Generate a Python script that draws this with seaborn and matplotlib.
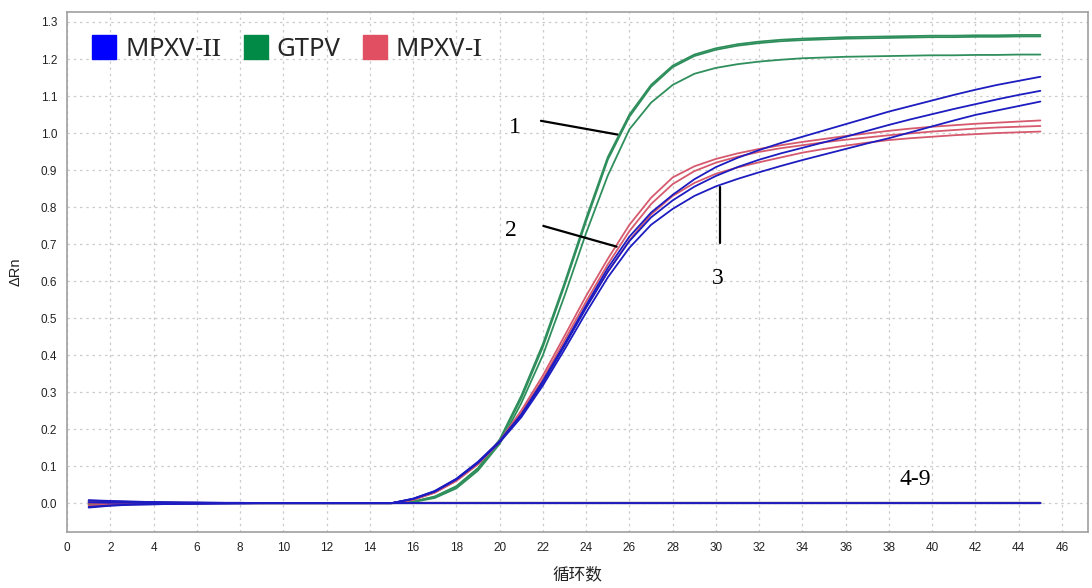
import numpy as np
import pandas as pd
import matplotlib
matplotlib.use("Agg")
import matplotlib.pyplot as plt
from matplotlib.lines import Line2D
import seaborn as sns

# qPCR amplification curves, cycles 1..45
cycles = list(range(1, 46))

# GTPV (1)
gtpv_a = [-0.004, -0.002, -0.001, 0.0, 0.0, 0.0, 0.0, 0.0, 0.0, 0.0, 0.0, 0.0, 0.0, 0.0,
          0.0, 0.004, 0.018, 0.046, 0.095, 0.172, 0.290, 0.430, 0.595, 0.770, 0.935,
          1.050, 1.130, 1.182, 1.212, 1.229, 1.240, 1.247, 1.252, 1.255, 1.257, 1.259,
          1.260, 1.261, 1.262, 1.263, 1.263, 1.264, 1.264, 1.265, 1.265]
gtpv_b = [0.004, 0.003, 0.002, 0.001, 0.001, 0.0, 0.0, 0.0, 0.0, 0.0, 0.0, 0.0, 0.0, 0.0,
          0.0, 0.004, 0.017, 0.044, 0.092, 0.168, 0.283, 0.422, 0.588, 0.762, 0.928,
          1.044, 1.125, 1.178, 1.208, 1.225, 1.236, 1.243, 1.248, 1.251, 1.253, 1.255,
          1.256, 1.257, 1.258, 1.259, 1.259, 1.260, 1.260, 1.261, 1.261]
gtpv_c = [0.001, 0.001, 0.0, 0.0, 0.0, 0.0, 0.0, 0.0, 0.0, 0.0, 0.0, 0.0, 0.0, 0.0,
          0.0, 0.003, 0.014, 0.040, 0.088, 0.160, 0.270, 0.400, 0.560, 0.730, 0.885,
          1.010, 1.082, 1.130, 1.160, 1.176, 1.186, 1.193, 1.198, 1.202, 1.204, 1.206,
          1.207, 1.208, 1.209, 1.210, 1.210, 1.211, 1.211, 1.212, 1.212]

# MPXV-I (2)
mpxv1_a = [-0.006, -0.004, -0.003, -0.002, -0.001, -0.001, 0.0, 0.0, 0.0, 0.0, 0.0, 0.0, 0.0, 0.0,
           0.0, 0.010, 0.030, 0.062, 0.108, 0.168, 0.250, 0.345, 0.452, 0.560, 0.660,
           0.752, 0.825, 0.880, 0.910, 0.930, 0.945, 0.957, 0.967, 0.976, 0.984, 0.992,
           0.999, 1.006, 1.012, 1.017, 1.021, 1.025, 1.028, 1.031, 1.034]
mpxv1_b = [0.003, 0.002, 0.001, 0.001, 0.0, 0.0, 0.0, 0.0, 0.0, 0.0, 0.0, 0.0, 0.0, 0.0,
           0.0, 0.009, 0.028, 0.060, 0.105, 0.165, 0.243, 0.335, 0.440, 0.545, 0.645,
           0.735, 0.808, 0.862, 0.897, 0.920, 0.936, 0.949, 0.959, 0.967, 0.975, 0.982,
           0.988, 0.994, 0.999, 1.004, 1.008, 1.012, 1.015, 1.017, 1.019]
mpxv1_c = [0.000, 0.000, 0.0, 0.0, 0.0, 0.0, 0.0, 0.0, 0.0, 0.0, 0.0, 0.0, 0.0, 0.0,
           0.0, 0.009, 0.029, 0.061, 0.106, 0.165, 0.240, 0.330, 0.430, 0.530, 0.625,
           0.710, 0.780, 0.830, 0.865, 0.890, 0.907, 0.921, 0.934, 0.947, 0.957, 0.966,
           0.974, 0.981, 0.986, 0.990, 0.994, 0.997, 1.000, 1.002, 1.004]

# MPXV-II (3)
mpxv2_a = [-0.012, -0.007, -0.004, -0.003, -0.002, -0.002, -0.001, -0.001, 0.0, 0.0, 0.0, 0.0, 0.0, 0.0,
           0.0, 0.012, 0.033, 0.066, 0.112, 0.168, 0.240, 0.330, 0.430, 0.535, 0.635,
           0.720, 0.785, 0.833, 0.875, 0.908, 0.933, 0.954, 0.973, 0.990, 1.007, 1.024,
           1.041, 1.058, 1.073, 1.088, 1.103, 1.117, 1.130, 1.141, 1.152]
mpxv2_b = [0.007, 0.005, 0.004, 0.003, 0.002, 0.002, 0.001, 0.001, 0.0, 0.0, 0.0, 0.0, 0.0, 0.0,
           0.0, 0.012, 0.032, 0.065, 0.110, 0.166, 0.237, 0.325, 0.425, 0.528, 0.625,
           0.708, 0.772, 0.818, 0.855, 0.884, 0.908, 0.928, 0.945, 0.960, 0.975, 0.990,
           1.006, 1.022, 1.037, 1.051, 1.065, 1.078, 1.091, 1.103, 1.114]
mpxv2_c = [0.002, 0.001, 0.001, 0.0, 0.0, 0.0, 0.0, 0.0, 0.0, 0.0, 0.0, 0.0, 0.0, 0.0,
           0.0, 0.011, 0.031, 0.064, 0.109, 0.164, 0.232, 0.318, 0.415, 0.515, 0.610,
           0.690, 0.752, 0.795, 0.830, 0.856, 0.876, 0.894, 0.911, 0.927, 0.942, 0.957,
           0.972, 0.986, 1.002, 1.018, 1.034, 1.049, 1.061, 1.073, 1.085]

# negatives (4-9), flat
neg_g1 = [0.003, 0.002, 0.001, 0.001, 0.001, 0.0, 0.0, 0.0, 0.0, 0.0, 0.0, 0.0, 0.0, 0.0, 0.0,
          0.0, 0.0, 0.0, 0.0, 0.0, 0.0, 0.0, 0.0, 0.0, 0.0, 0.0, 0.0, 0.0, 0.0, 0.0,
          0.0, 0.0, 0.0, 0.0, 0.0, 0.0, 0.0, 0.0, 0.0, 0.0, 0.0, 0.0, 0.0, 0.0, 0.0]
neg_g2 = [-0.003, -0.002, -0.001, -0.001, 0.0, 0.0, 0.0, 0.0, 0.0, 0.0, 0.0, 0.0, 0.0, 0.0, 0.0,
          0.001, 0.001, 0.001, 0.001, 0.001, 0.001, 0.001, 0.001, 0.001, 0.001, 0.001, 0.001, 0.001, 0.001, 0.001,
          0.001, 0.001, 0.001, 0.001, 0.001, 0.001, 0.001, 0.001, 0.001, 0.001, 0.001, 0.001, 0.001, 0.001, 0.001]
neg_r1 = [0.004, 0.003, 0.002, 0.001, 0.001, 0.001, 0.0, 0.0, 0.0, 0.0, 0.0, 0.0, 0.0, 0.0, 0.0,
          0.0, 0.0, 0.0, 0.0, 0.0, 0.0, 0.0, 0.0, 0.0, 0.0, 0.0, 0.0, 0.0, 0.0, 0.0,
          0.0, 0.0, 0.0, 0.0, 0.0, 0.0, 0.0, 0.0, 0.0, 0.0, 0.0, 0.0, 0.0, 0.0, 0.0]
neg_r2 = [-0.005, -0.003, -0.002, -0.001, -0.001, 0.0, 0.0, 0.0, 0.0, 0.0, 0.0, 0.0, 0.0, 0.0, 0.0,
          0.001, 0.001, 0.001, 0.001, 0.001, 0.001, 0.001, 0.001, 0.001, 0.001, 0.001, 0.001, 0.001, 0.001, 0.001,
          0.001, 0.001, 0.001, 0.001, 0.001, 0.001, 0.001, 0.001, 0.001, 0.001, 0.001, 0.001, 0.001, 0.001, 0.001]
neg_b1 = [0.008, 0.006, 0.004, 0.003, 0.002, 0.001, 0.001, 0.0, 0.0, 0.0, 0.0, 0.0, 0.0, 0.0, 0.0,
          0.0, 0.0, 0.0, 0.0, 0.0, 0.0, 0.0, 0.0, 0.0, 0.0, 0.0, 0.0, 0.0, 0.0, 0.0,
          0.0, 0.0, 0.0, 0.0, 0.0, 0.0, 0.0, 0.0, 0.0, 0.0, 0.0, 0.0, 0.0, 0.0, 0.0]
neg_b2 = [-0.010, -0.006, -0.004, -0.003, -0.002, -0.001, -0.001, 0.0, 0.0, 0.0, 0.0, 0.0, 0.0, 0.0, 0.0,
          0.0, 0.0, 0.0, 0.0, 0.0, 0.0, 0.0, 0.0, 0.0, 0.0, 0.0, 0.0, 0.0, 0.0, 0.0,
          0.0, 0.0, 0.0, 0.0, 0.0, 0.0, 0.0, 0.0, 0.0, 0.0, 0.0, 0.0, 0.0, 0.0, 0.0]

xticks = list(range(0, 47, 2))
yticks = [round(0.1 * i, 1) for i in range(14)]

# roman numerals drawn with serif mathtext, like the original legend
legend_labels = [r"MPXV-$\mathrm{II}$", "GTPV", r"MPXV-$\mathrm{I}$"]
legend_colors = ["#0000ff", "#008a45", "#e05062"]

line_colors = {"GTPV": "#2f8f5c", "MPXV-I": "#d65a6e", "MPXV-II": "#1c1cc0"}

# draw order: green, red, blue on top
wells = [
    ("GTPV", "g_neg1", neg_g1), ("GTPV", "g_neg2", neg_g2),
    ("MPXV-I", "r_neg1", neg_r1), ("MPXV-I", "r_neg2", neg_r2),
    ("GTPV", "g_a", gtpv_a), ("GTPV", "g_b", gtpv_b), ("GTPV", "g_c", gtpv_c),
    ("MPXV-I", "r_a", mpxv1_a), ("MPXV-I", "r_b", mpxv1_b), ("MPXV-I", "r_c", mpxv1_c),
    ("MPXV-II", "b_neg1", neg_b1), ("MPXV-II", "b_neg2", neg_b2),
    ("MPXV-II", "b_a", mpxv2_a), ("MPXV-II", "b_b", mpxv2_b), ("MPXV-II", "b_c", mpxv2_c),
]

rows = []
for target, well, vals in wells:
    for c, v in zip(cycles, vals):
        rows.append({"target": target, "well": well, "cycle": c, "rn": v})
df = pd.DataFrame(rows)

sns.set_style("white")
plt.rcParams["font.family"] = ["Liberation Sans", "DejaVu Sans"]
plt.rcParams["mathtext.fontset"] = "stix"

fig = plt.figure(figsize=(10.92, 5.88), dpi=100)
ax = fig.add_axes([0.0614, 0.0952, 0.9349, 0.8844])

for target, well, vals in wells:
    sub = df[df["well"] == well]
    sns.lineplot(data=sub, x="cycle", y="rn", color=line_colors[target],
                 linewidth=1.3, estimator=None, ax=ax, legend=False)

ax.set_xlim(0, 47.2)
ax.set_ylim(-0.078, 1.327)
ax.set_xticks(xticks)
ax.set_yticks(yticks)
ax.set_yticklabels([f"{t:.1f}" for t in yticks])
ax.grid(True, color="#cccccc", linestyle=(0, (2, 3)), linewidth=0.9)
ax.tick_params(axis="both", which="major", direction="out", length=4, width=1,
               color="#999999", labelsize=8.5, labelcolor="#222222", pad=3)
for s in ax.spines.values():
    s.set_color("#a0a0a0")
    s.set_linewidth(1.2)

ax.set_xlabel("循环数", family=["Noto Sans CJK SC"], fontsize=12, color="#222222", labelpad=9)
ax.set_ylabel("ΔRn", fontsize=10.5, color="#222222", labelpad=13)

# annotations
ann_font = dict(family="Liberation Serif", fontsize=17, color="black", ha="center", va="center")
ax.plot([21.91, 25.44], [1.033, 0.996], color="black", linewidth=1.6)
ax.text(20.71, 1.015, "1", **ann_font)
ax.plot([22.02, 25.41], [0.749, 0.693], color="black", linewidth=1.6)
ax.text(20.51, 0.736, "2", **ann_font)
ax.plot([30.19, 30.19], [0.855, 0.702], color="black", linewidth=1.6)
ax.text(30.07, 0.607, "3", **ann_font)
ax.text(39.23, 0.065, "4-9", **ann_font)

handles = [Line2D([], [], linestyle="none", marker="s", markersize=17,
                  markerfacecolor=c, markeredgecolor=c) for c in legend_colors]
leg = ax.legend(handles, legend_labels, loc="center left", bbox_to_anchor=(0.001, 0.927),
                ncol=3, frameon=False, handlelength=1.0, handletextpad=0.3,
                columnspacing=0.85, prop={"family": ["Noto Sans"], "size": 18.5})

fig.savefig("out.png", dpi=100)
